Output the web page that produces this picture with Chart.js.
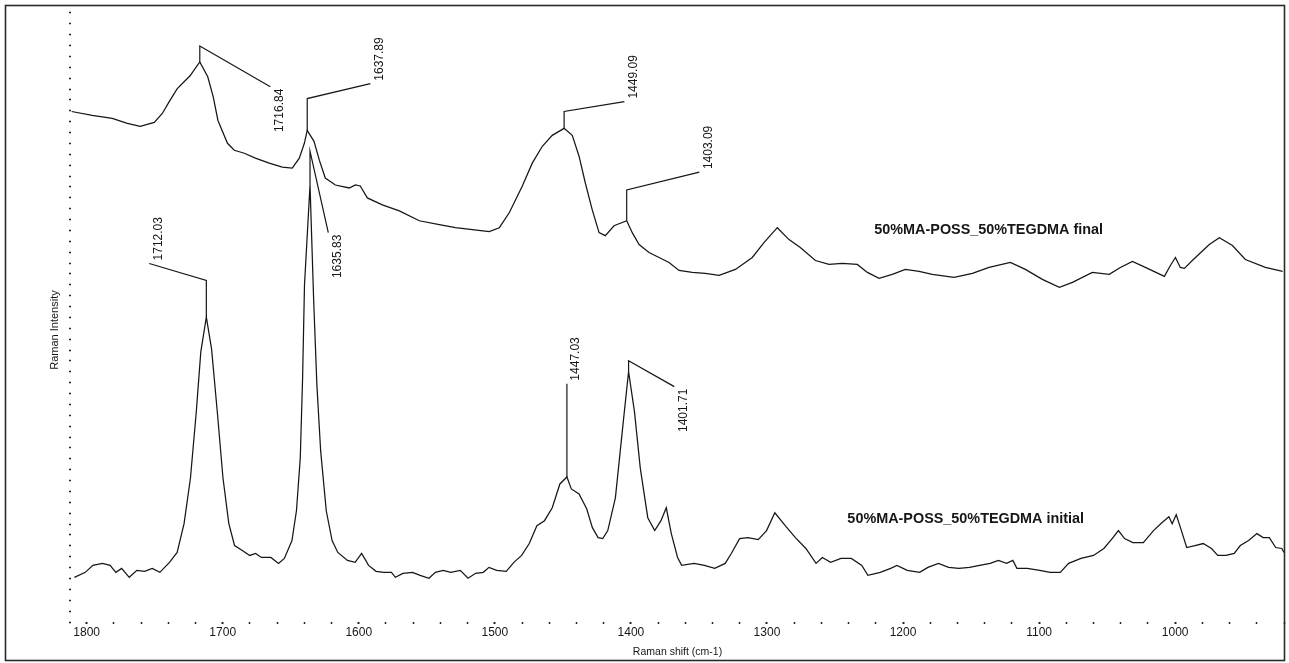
<!DOCTYPE html>
<html>
<head>
<meta charset="utf-8">
<script src="https://cdn.jsdelivr.net/npm/chart.js@4.4.1/dist/chart.umd.min.js"></script>
<style>
  html, body { margin: 0; padding: 0; background: #fff; }
  canvas { display: block; }
</style>
</head>
<body>
<canvas id="raman" width="1289" height="663"></canvas>
<script>
// Raman shift (cm-1) and intensity of the cured sample
const finalShift = [1811, 1795.9, 1781.2, 1770.1, 1760.6, 1750.3, 1744.4, 1739.3, 1733.4, 1724, 1716.84, 1711, 1707, 1703.5, 1696.5, 1691.5, 1684.1, 1676.0, 1665.8, 1656.2, 1648.9, 1643.7, 1640.0, 1637.89, 1632.9, 1629.0, 1624.6, 1617.2, 1607.0, 1602.5, 1598.9, 1593.7, 1582.7, 1570.2, 1555.5, 1540.8, 1529.0, 1516.5, 1504.1, 1496.7, 1489.4, 1479.8, 1472.5, 1465.1, 1457.8, 1449.09, 1443.1, 1438.1, 1433.5, 1428.4, 1423.4, 1418.8, 1412.4, 1403.09, 1399.0, 1394.0, 1386.7, 1379.3, 1372.0, 1364.6, 1354.9, 1345.3, 1335.2, 1323.2, 1310.8, 1302.2, 1292.4, 1283.8, 1275.5, 1264.4, 1254.4, 1244.6, 1233.6, 1226.2, 1217.6, 1207.9, 1198.3, 1188.2, 1178.5, 1162.5, 1149.0, 1136.8, 1121.1, 1110.1, 1097.6, 1085.1, 1075.5, 1060.9, 1048.4, 1040.3, 1031.4, 1021.9, 1007.9, 1003.5, 999.8, 996.2, 993.2, 987.4, 974.9, 967.5, 957.9, 948.4, 933.7, 921];
const finalIntensity = [514, 510, 507, 502, 499, 503, 512, 524, 537, 550, 564, 549, 529, 505, 482, 475, 472, 467, 462, 458, 457, 467, 482, 495, 484, 465, 447, 440, 437, 440, 439, 427, 420, 414, 404, 400, 397, 395, 393, 397, 412, 439, 462, 479, 490, 497, 490, 469, 442, 415, 392, 389, 399, 404, 392, 380, 372, 367, 362, 354, 352, 351, 349, 355, 367, 382, 397, 385, 377, 364, 360, 361, 360, 352, 346, 350, 355, 353, 350, 347, 351, 357, 362, 355, 345, 337, 342, 352, 350, 357, 363, 357, 348, 359, 367, 357, 356, 364, 380, 387, 379, 365, 357, 353];

// Raman shift (cm-1) and intensity of the uncured sample
const initialShift = [1809, 1801.0, 1795.4, 1788.4, 1782.8, 1778.5, 1774.3, 1768.7, 1763.1, 1757.4, 1751.8, 1746.2, 1739.1, 1733.5, 1728.4, 1723.7, 1719.4, 1716.1, 1712.03, 1708.2, 1704.0, 1699.8, 1695.5, 1691.3, 1685.6, 1680.1, 1675.8, 1671.6, 1664.6, 1659.0, 1654.7, 1649.1, 1645.8, 1643.0, 1641.3, 1639.9, 1635.83, 1633.1, 1630.8, 1628.0, 1623.9, 1619.6, 1615.4, 1608.3, 1602.7, 1597.9, 1592.8, 1587.3, 1581.6, 1576.0, 1573.1, 1567.6, 1560.5, 1554.9, 1548.4, 1543.7, 1538.0, 1532.4, 1525.4, 1519.7, 1514.1, 1508.5, 1504.3, 1498.6, 1491.6, 1486.0, 1480.3, 1474.7, 1469.1, 1463.5, 1457.8, 1452.2, 1447.03, 1443.8, 1438.1, 1432.5, 1428.3, 1424.1, 1420.7, 1417.0, 1411.4, 1405.8, 1401.71, 1397.4, 1393.1, 1387.6, 1382.5, 1377.9, 1374.0, 1370.3, 1365.7, 1362.7, 1353.6, 1346.0, 1338.4, 1330.7, 1326.2, 1320.1, 1314.0, 1306.4, 1300.3, 1294.2, 1286.6, 1279.1, 1271.4, 1263.9, 1259.3, 1253.2, 1245.6, 1238.0, 1230.3, 1225.8, 1216.7, 1209.1, 1204.5, 1196.9, 1187.8, 1181.7, 1174.0, 1166.5, 1158.9, 1151.2, 1143.7, 1136.0, 1129.9, 1123.9, 1119.3, 1116.3, 1108.7, 1099.5, 1091.9, 1084.4, 1078.3, 1069.2, 1060.0, 1052.4, 1046.3, 1041.7, 1037.2, 1031.1, 1023.4, 1015.9, 1009.8, 1004.6, 1002.2, 999.2, 996.1, 991.5, 985.4, 979.4, 973.3, 968.7, 962.6, 956.6, 952.1, 946.0, 939.9, 935.3, 930.8, 926.1, 921.6, 920];
const initialIntensity = [45, 50, 57, 59, 57, 50, 54, 45, 52, 51, 54, 50, 60, 70, 99, 145, 212, 272, 307, 275, 212, 145, 99, 77, 72, 67, 69, 65, 65, 59, 64, 82, 112, 165, 245, 339, 440, 322, 239, 172, 112, 82, 70, 62, 60, 69, 57, 51, 50, 50, 45, 49, 50, 47, 44, 50, 52, 50, 52, 44, 49, 50, 55, 52, 51, 60, 67, 79, 97, 102, 115, 139, 146, 134, 129, 114, 95, 85, 84, 92, 125, 199, 252, 212, 155, 105, 92, 102, 115, 89, 65, 57, 59, 57, 54, 59, 69, 84, 85, 83, 92, 110, 97, 85, 74, 59, 65, 60, 64, 64, 57, 47, 50, 54, 57, 52, 50, 55, 59, 55, 54, 55, 57, 59, 62, 59, 62, 54, 54, 52, 50, 50, 59, 64, 67, 74, 84, 92, 84, 80, 80, 92, 100, 106, 99, 108, 95, 75, 77, 79, 74, 67, 67, 69, 77, 82, 89, 85, 85, 75, 74, 70];

// Marked peak positions (cm-1)
const finalPeaks = [1716.84, 1637.89, 1449.09, 1403.09];
const initialPeaks = [1712.03, 1635.83, 1447.03, 1401.71];

const seriesNames = ['50%MA-POSS_50%TEGDMA final', '50%MA-POSS_50%TEGDMA initial'];
const xTickLabels = [1800, 1700, 1600, 1500, 1400, 1300, 1200, 1100, 1000];
const xTitle = 'Raman shift (cm-1)';
const yTitle = 'Raman Intensity';

// ---- drawing ----
const SANS = "'Liberation Sans', Arial, sans-serif";
const INK = '#161616';

// leader line geometry for each marked peak: elbow height, label anchor, label side
const leaders = {
  1716.84: { elbow: 580, end: [1665.0, 539], side: 'below' },
  1637.89: { elbow: 527, end: [1591.5, 542], side: 'above' },
  1449.09: { elbow: 514, end: [1404.8, 524], side: 'above' },
  1403.09: { elbow: 435, end: [1349.7, 453], side: 'above' },
  1712.03: { elbow: 344, end: [1754.0, 361], side: 'above' },
  1635.83: { elbow: 474, end: [1622.4, 392], side: 'below' },
  1447.03: { elbow: 240, end: null, side: 'above' },
  1401.71: { elbow: 263, end: [1368.1, 237], side: 'below' }
};
const seriesLabelAt = [[1221.1, 394.5], [1240.9, 104]];

function toPoints(xs, ys) { return xs.map((x, i) => ({ x: x, y: ys[i] })); }

const annotate = {
  id: 'annotate',
  afterDatasetsDraw(chart) {
    const ctx = chart.ctx;
    const xs = chart.scales.x, ys = chart.scales.y;
    const px = v => xs.getPixelForValue(v);
    const py = v => ys.getPixelForValue(v);
    ctx.save();
    ctx.strokeStyle = INK;
    ctx.fillStyle = INK;
    ctx.lineWidth = 1.2;

    const marks = [[finalPeaks, finalShift, finalIntensity], [initialPeaks, initialShift, initialIntensity]];
    marks.forEach(([peaks, shifts, vals]) => {
      peaks.forEach(p => {
        const g = leaders[p];
        const top = vals[shifts.indexOf(p)];
        const x0 = px(p), y0 = py(top), ye = py(g.elbow);
        let ex = x0, ey = ye;
        ctx.beginPath();
        ctx.moveTo(x0, y0);
        ctx.lineTo(x0, ye);
        if (g.end) {
          ex = px(g.end[0]); ey = py(g.end[1]);
          ctx.lineTo(ex, ey);
        }
        ctx.stroke();
        ctx.save();
        ctx.font = '12px ' + SANS;
        ctx.translate(ex + 3, g.side === 'above' ? ey - 3 : ey + 2);
        ctx.rotate(-Math.PI / 2);
        ctx.textBaseline = 'top';
        ctx.textAlign = g.side === 'above' ? 'left' : 'right';
        ctx.fillText(p.toFixed(2), 0, 0);
        ctx.restore();
      });
    });

    ctx.font = 'bold 14.4px ' + SANS;
    ctx.textBaseline = 'middle';
    ctx.textAlign = 'left';
    seriesNames.forEach((name, i) => {
      ctx.fillText(name, px(seriesLabelAt[i][0]), py(seriesLabelAt[i][1]));
    });

    ctx.save();
    ctx.font = '11px ' + SANS;
    ctx.translate(55, 330);
    ctx.rotate(-Math.PI / 2);
    ctx.textAlign = 'center';
    ctx.textBaseline = 'middle';
    ctx.fillText(yTitle, 0, 0);
    ctx.restore();

    ctx.lineWidth = 1.6;
    ctx.strokeStyle = '#2a2a2a';
    ctx.strokeRect(5.5, 5.5, 1279, 655);
    ctx.restore();
  }
};

new Chart(document.getElementById('raman'), {
  type: 'line',
  data: {
    datasets: [
      { label: seriesNames[0], data: toPoints(finalShift, finalIntensity) },
      { label: seriesNames[1], data: toPoints(initialShift, initialIntensity) }
    ]
  },
  options: {
    responsive: false,
    animation: false,
    devicePixelRatio: 1,
    layout: { padding: { top: 6, right: 5, left: 0, bottom: 0 } },
    elements: {
      point: { radius: 0 },
      line: { tension: 0, borderWidth: 1.25, borderColor: INK, fill: false }
    },
    plugins: { legend: { display: false }, tooltip: { enabled: false } },
    scales: {
      x: {
        type: 'linear',
        reverse: true,
        min: 920,
        max: 1811.5,
        border: { display: false },
        grid: {
          drawOnChartArea: false,
          tickLength: 2,
          tickColor: '#222',
          tickWidth: c => (c.tick && c.tick.value % 100 === 0 ? 2 : 1.5)
        },
        ticks: {
          stepSize: 20,
          includeBounds: false,
          autoSkip: false,
          maxRotation: 0,
          padding: 1,
          color: INK,
          font: { family: SANS, size: 12 },
          callback: v => (xTickLabels.includes(v) ? String(v) : '')
        },
        title: {
          display: true,
          text: xTitle,
          color: INK,
          font: { family: SANS, size: 10.5 },
          padding: { top: 0, bottom: 5 }
        },
        afterFit: s => { s.height = 41; }
      },
      y: {
        min: 0,
        max: 616,
        border: { display: false },
        grid: { drawOnChartArea: false, tickLength: 2, tickColor: '#222', tickWidth: 1.5 },
        ticks: {
          stepSize: 10.95,
          includeBounds: false,
          autoSkip: false,
          callback: () => ''
        },
        afterFit: s => { s.width = 71; }
      }
    }
  },
  plugins: [annotate]
});
</script>
</body>
</html>
